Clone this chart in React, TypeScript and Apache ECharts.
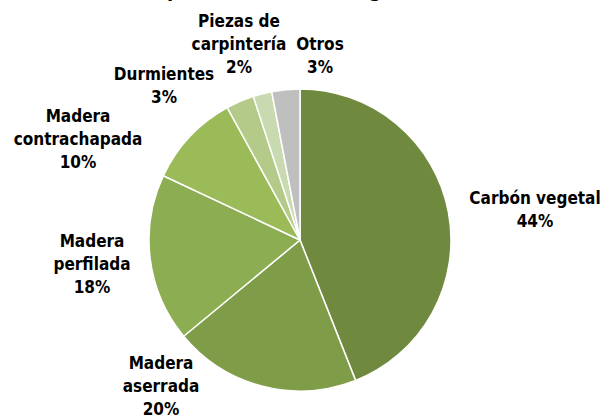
import React, { useEffect, useRef } from "react";
import * as echarts from "echarts";

const titleText = "Exportaciones (en kilogramos)";
const categories = [
  "Carbón vegetal",
  "Madera aserrada",
  "Madera perfilada",
  "Madera contrachapada",
  "Durmientes",
  "Piezas de carpintería",
  "Otros",
];
const labelNames = [
  "Carbón vegetal",
  "Madera\naserrada",
  "Madera\nperfilada",
  "Madera\ncontrachapada",
  "Durmientes",
  "Piezas de\ncarpintería",
  "Otros",
];
const shares = [44, 20, 18, 10, 3, 2, 3];
const colors = ["#6F8A3E", "#7F9D49", "#8DAD52", "#9BBB59", "#B3CA88", "#C9DAB0", "#BFBFBF"];
// label block centres (px), Excel "best fit" placement
const labelPos: [number, number][] = [
  [535, 209],
  [161, 386],
  [92, 264],
  [78, 139],
  [164, 85],
  [239, 44],
  [320, 55],
];

const FONT = "'DejaVu Sans Condensed', 'DejaVu Sans', sans-serif";

export default function App() {
  const ref = useRef<HTMLDivElement>(null);
  useEffect(() => {
    if (!ref.current) return;
    const chart = echarts.init(ref.current, null, { renderer: "svg" });
    chart.setOption({
      animation: false,
      backgroundColor: "#ffffff",
      graphic: [
        {
          type: "text",
          x: 298,
          y: -10,
          style: {
            text: titleText,
            font: `bold 20px ${FONT}`,
            fill: "#000",
            align: "center",
            verticalAlign: "middle",
          },
        },
      ],
      series: [
        {
          type: "pie",
          center: [300, 240],
          radius: 151,
          startAngle: 90,
          clockwise: true,
          avoidLabelOverlap: false,
          itemStyle: { borderColor: "#fff", borderWidth: 1.5 },
          label: {
            show: true,
            position: "outside",
            fontFamily: FONT,
            fontWeight: "bold",
            fontSize: 17,
            lineHeight: 23,
            color: "#000",
            align: "center",
            formatter: (p: any) => `${labelNames[p.dataIndex]}\n${p.value}%`,
          },
          labelLine: { show: false },
          labelLayout: (p: any) => ({
            x: labelPos[p.dataIndex][0],
            y: labelPos[p.dataIndex][1],
            align: "center",
            verticalAlign: "middle",
          }),
          emphasis: { disabled: true },
          data: categories.map((c, i) => ({
            name: c,
            value: shares[i],
            itemStyle: { color: colors[i] },
          })),
        },
      ],
    });
    return () => chart.dispose();
  }, []);
  return (
    <div
      ref={ref}
      style={{ position: "fixed", left: 0, top: 0, width: 607, height: 418 }}
    />
  );
}
